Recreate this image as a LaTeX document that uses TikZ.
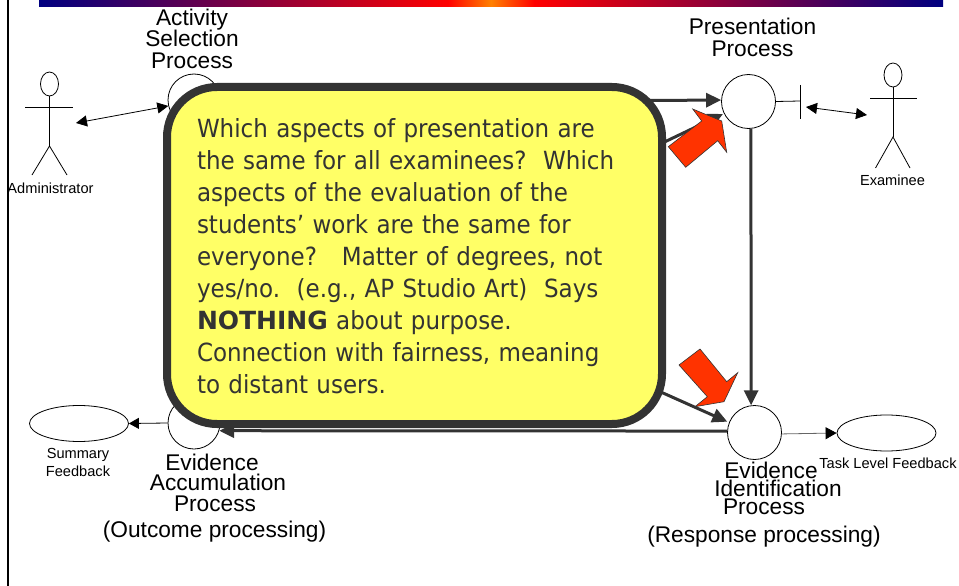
\documentclass[tikz,border=0pt]{standalone}
\usepackage{fontspec}
\setmainfont{Liberation Sans}
\newfontfamily\callfont[FakeStretch=0.92,BoldFeatures={FakeStretch=1}]{DejaVu Sans}
\usepackage{tikz}
\usetikzlibrary{arrows.meta,shapes.geometric}
\definecolor{darkline}{HTML}{333333}
\definecolor{noteyellow}{HTML}{FFFF66}
\definecolor{blockred}{HTML}{FF3300}
\definecolor{barnavy}{HTML}{000080}
\definecolor{barorange}{HTML}{FF8000}
\tikzset{
	proc/.style={draw, circle, fill=white, line width=0.8pt, minimum size=#1, inner sep=0pt},
	cloud/.style={draw, ellipse, fill=white, line width=0.8pt, minimum width=99pt, minimum height=36pt, inner sep=0pt},
	biglabel/.style={align=center, font=\fontsize{22.7}{21.5}\selectfont, inner sep=0pt},
	smalllabel/.style={align=center, font=\fontsize{14.6}{18}\selectfont, inner sep=0pt},
	thinarrow/.style={line width=0.8pt, -{Triangle[length=10pt,width=11pt]}},
	twoarrow/.style={line width=0.8pt, {Triangle[length=11pt,width=11pt]}-{Triangle[length=11pt,width=11pt]}},
	fatarrow/.style={line width=3pt, color=darkline, -{Triangle[length=15pt,width=14pt]}},
	blockarrow/.style={draw=darkline, fill=blockred, line width=0.6pt}
}
\begin{document}
\begin{tikzpicture}[x=1pt,y=-1pt]
	%%%%% START %%%%%
	\useasboundingbox (0,0) rectangle (959,586);
	
	\draw[line width=2.6pt] (8,0) -- (8,586);
	\shade[left color=barnavy, right color=red] (39,0) rectangle (448.5,7);
	\shade[left color=red, right color=barorange] (448,0) rectangle (491,7);
	\shade[left color=barorange, right color=red] (491,0) rectangle (534.5,7);
	\shade[left color=red, right color=barnavy] (534,0) rectangle (943,7);
	
	% the four processes
	\node[proc=52pt] (sel) at (194,100) {};
	\node[proc=52pt] (acc) at (194,423) {};
	\node[proc=54pt] (pres) at (748.5,101.5) {};
	\node[proc=54pt] (ident) at (754.5,432.5) {};
	
	\node[cloud] (summary) at (79,423.5) {};
	\node[cloud] (task) at (886.5,433) {};
	
	% administrator
	\node[draw, ellipse, line width=0.8pt, minimum width=18pt, minimum height=24pt, inner sep=0pt] (admhead) at (49.5,84) {};
	\coordinate (admhip) at (49.5,146);
	\draw[line width=0.8pt] (25,107) -- (73,107);
	\draw[line width=0.8pt] (admhead) -- (admhip);
	\draw[line width=0.8pt] (32,175) -- (admhip) -- (67,175);
	\coordinate (admhand) at (76,123);
	
	% examinee
	\node[draw, ellipse, line width=0.8pt, minimum width=18pt, minimum height=24pt, inner sep=0pt] (exhead) at (893,75) {};
	\coordinate (exhip) at (893,137);
	\draw[line width=0.8pt] (870,98) -- (917,98);
	\draw[line width=0.8pt] (exhead) -- (exhip);
	\draw[line width=0.8pt] (875.5,168) -- (exhip) -- (910,168);
	\coordinate (exhand) at (867,115);
	
	% port on the presentation process
	\coordinate (port) at (800,101);
	\draw[line width=0.8pt] (pres.east) -- (port);
	\draw[line width=0.8pt] (800,85) -- (800,119);
	\coordinate (portout) at (806,107);
	
	\draw[twoarrow] (admhand) -- (sel.-167);
	\draw[twoarrow] (portout) -- (exhand);
	\draw[thinarrow] (acc.west) -- (summary.east);
	\draw[thinarrow, color=black!60, -{Triangle[length=11pt,width=12pt,color=black]}] (ident.-3) -- (task.west);
	
	% messages between the processes
	\coordinate (hidupper) at (640,153.7);
	\coordinate (hidlower) at (640,382.7);
	\draw[fatarrow] (sel.-6) -- (pres.177);
	\draw[fatarrow] (hidupper) -- (723,114);
	\draw[fatarrow] (pres.-85) -- (ident.97);
	\draw[fatarrow] (hidlower) -- (727.3,421.7);
	\draw[fatarrow] (ident.177) -- (acc.-17);
	
	\node[draw=darkline, fill=noteyellow, line width=8pt, rounded corners=50pt, minimum width=495pt, minimum height=337pt, text width=435pt, align=left, inner sep=0pt, text=darkline, font=\callfont\fontsize{25}{32}\selectfont] (note) at (414.5,255.5) {\rule{0pt}{21pt}Which aspects of presentation are\\
		the same for all examinees?\ \ Which\\
		aspects of the evaluation of the\\
		students’ work are the same for\\
		everyone?\ \ \ Matter of degrees, not\\
		yes/no.\ \ (e.g., AP Studio Art)\ \ Says\\
		\textbf{NOTHING} about purpose.\\
		Connection with fairness, meaning\\
		to distant users.};
	
	\draw[blockarrow] (692.7,109) -- (721.7,121) -- (726.7,152.3) -- (717.7,140.7) -- (685.7,167.3) -- (668.3,146.7) -- (701.7,121) -- cycle;
	\draw[blockarrow] (700,349) -- (679,365) -- (707.3,396.7) -- (695,406.7) -- (724,401.7) -- (737.7,372.7) -- (726.7,381.7) -- cycle;
	
	% labels
	\node[biglabel] (sellabel) at (192,38.5) {Activity\\Selection\\Process};
	\node[biglabel] (preslabel) at (752.5,37.5) {Presentation\\Process};
	\node[biglabel] (acclabel1) at (212,462.5) {Evidence};
	\node[biglabel] (acclabel2) at (218,482.5) {Accumulation};
	\node[biglabel] (acclabel3) at (215,503.5) {Process};
	\node[biglabel] (acclabel4) at (214.5,532) {(Outcome processing)};
	\node[biglabel] (idlabel1) at (771,470) {Evidence};
	\node[biglabel] (idlabel2) at (778,488.5) {Identification};
	\node[biglabel] (idlabel3) at (764,507) {Process};
	\node[biglabel] (idlabel4) at (764,537) {(Response processing)};
	\node[smalllabel] (admlabel) at (50.5,188) {Administrator};
	\node[smalllabel] (exlabel) at (892.5,180) {Examinee};
	\node[smalllabel] (sumlabel) at (78,462) {Summary\\Feedback};
	\node[smalllabel] (tasklabel) at (888,463) {Task Level Feedback};
	
	%%%%% END %%%%%
\end{tikzpicture}
\end{document}
